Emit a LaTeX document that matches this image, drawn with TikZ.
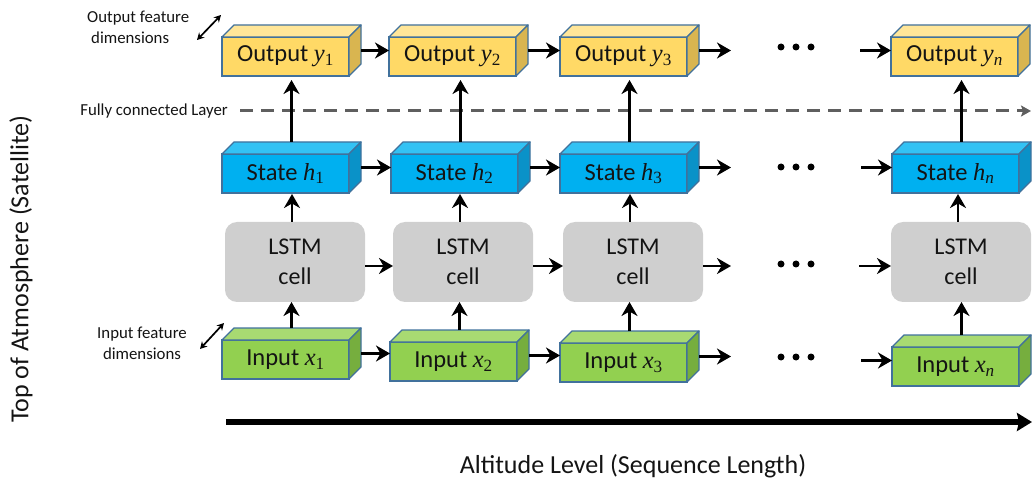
\documentclass[tikz,border=0pt]{standalone}
\usepackage{fontspec}
\setmainfont{Carlito}
\newfontfamily\varfont{Liberation Serif}
\usetikzlibrary{arrows.meta,calc}

\definecolor{outFront}{HTML}{FFD966}
\definecolor{outTop}{HTML}{FFE699}
\definecolor{outSide}{HTML}{D9B550}
\definecolor{stFront}{HTML}{00B0F0}
\definecolor{stTop}{HTML}{33C2F4}
\definecolor{stSide}{HTML}{0A92C8}
\definecolor{inFront}{HTML}{92D050}
\definecolor{inTop}{HTML}{A8DA72}
\definecolor{inSide}{HTML}{76AE3E}
\definecolor{edgeblue}{HTML}{41719C}
\definecolor{cellgray}{HTML}{CFCFCF}
\definecolor{fcgray}{HTML}{5F5F5F}
\definecolor{ink}{HTML}{141414}

% italic variable with a subscript
\newcommand\mv[2]{{\varfont\itshape #1}\textsubscript{\varfont #2}}

% a 3-D block: front face is the named node, top and right faces are drawn on it
% #1 colour prefix, #2 name, #3 x, #4 y of the front face's top-left corner, #5 text
\newcommand\cuboid[5]{%
  \node[face, fill=#1Front, anchor=north west] (#2) at (#3,#4) {#5};
  \filldraw[facedge, fill=#1Top] (#2.north west) -- ++(12,-12) -- ++(127,0)
    -- (#2.north east) -- cycle;
  \filldraw[facedge, fill=#1Side] (#2.north east) -- ++(12,-12) -- ++(0,39)
    -- (#2.south east) -- cycle;
}

\begin{document}
\begin{tikzpicture}[x=1pt,y=-1pt,
  face/.style={draw=edgeblue, line width=1.3pt, rectangle, minimum width=127pt,
    minimum height=39pt, inner sep=0pt, outer sep=0pt, text=ink,
    font=\fontsize{24.5}{27}\selectfont},
  facedge/.style={draw=edgeblue, line width=1.3pt, line join=round},
  cell/.style={fill=cellgray, rounded corners=12pt, minimum width=140pt,
    minimum height=80pt, inner sep=0pt, outer sep=0pt, align=center, text=ink,
    font=\fontsize{24}{30}\selectfont},
  conn/.style={-{Stealth[length=14pt,width=16pt,inset=4.5pt]}, line width=2.7pt},
  dimarrow/.style={{Stealth[length=7pt,width=7.5pt]}-{Stealth[length=7pt,width=7.5pt]},
    line width=1.7pt},
  note/.style={inner sep=0pt, text=ink, font=\fontsize{16.8}{21}\selectfont},
  axislabel/.style={inner sep=0pt, text=ink, font=\fontsize{26}{30}\selectfont},
  dot/.style={circle, fill=black, inner sep=0pt, minimum size=7pt},
]
\useasboundingbox (0,0) rectangle (1036,486);

% ---- fully connected layer (drawn first, arrows cross over it)
\coordinate (fcA) at (240,111);
\coordinate (fcB) at (1031,111);
\draw[fcgray, line width=3pt, dash pattern=on 13pt off 8pt,
  -{Stealth[length=10pt,width=11pt,inset=2pt]}] (fcA) -- (fcB);
\node[note, anchor=east] (fclabel) at (228,111) {Fully connected Layer};

% ---- output row
\cuboid{out}{o1}{222}{37}{Output \mv{y}{1}}
\cuboid{out}{o2}{389}{37}{Output \mv{y}{2}}
\cuboid{out}{o3}{560}{37}{Output \mv{y}{3}}
\cuboid{out}{on}{891}{37}{Output \mv{y}{\itshape n}}

% ---- state row
\cuboid{st}{s1}{222}{154}{State \mv{h}{1}}
\cuboid{st}{s2}{391}{154}{State \mv{h}{2}}
\cuboid{st}{s3}{560}{154}{State \mv{h}{3}}
\cuboid{st}{sn}{892}{154}{State \mv{h}{\itshape n}}

% ---- LSTM cells
\node[cell, anchor=north west] (l1) at (225,222) {LSTM\\cell};
\node[cell, anchor=north west] (l2) at (393,222) {LSTM\\cell};
\node[cell, anchor=north west] (l3) at (563,222) {LSTM\\cell};
\node[cell, anchor=north west] (ln) at (891,222) {LSTM\\cell};

% ---- input row
\cuboid{in}{i1}{222}{340}{Input \mv{x}{1}}
\cuboid{in}{i2}{390}{342}{Input \mv{x}{2}}
\cuboid{in}{i3}{560}{343}{Input \mv{x}{3}}
\cuboid{in}{in}{892}{347}{Input \mv{x}{\itshape n}}

% ---- gaps in the sequence
\foreach \r/\y in {o/47, s/167, l/264, i/357}{
  \node[dot] (\r dotA) at (781,\y) {};
  \node[dot] (\r dotB) at (796,\y) {};
  \node[dot] (\r dotC) at (811,\y) {};
  \coordinate (\r gapL) at (731,\y);
}

% ---- horizontal connections
\foreach \r in {o,s,i}{
  \draw[conn] ($(\r1.east)+(12,-6)$) coordinate (t) -- (t -| \r2.west);
  \draw[conn] ($(\r2.east)+(12,-6)$) coordinate (t) -- (t -| \r3.west);
  \draw[conn] ($(\r3.east)+(12,-6)$) coordinate (t) -- (t -| \r gapL);
  \draw[conn] ($(\r n.west)+(-31,-6)$) coordinate (t) -- (t -| \r n.west);
}
\draw[conn] ($(l1.east)+(0,4)$) coordinate (t) -- (t -| l2.west);
\draw[conn] ($(l2.east)+(0,4)$) coordinate (t) -- (t -| l3.west);
\draw[conn] ($(l3.east)+(0,4)$) coordinate (t) -- (t -| lgapL);
\draw[conn] ($(ln.west)+(-32,4)$) coordinate (t) -- (t -| ln.west);

% ---- vertical connections
\foreach \c in {1,2,3,n}{
  \draw[conn] ($(i\c.north)+(6,-12)$) coordinate (t) -- (t |- l\c.south);
  \draw[conn, shorten >=1pt] ($(l\c.north)+(-3,0)$) coordinate (t) -- (t |- s\c.south);
  \draw[conn, shorten >=4pt] ($(s\c.north)+(6,-12)$) coordinate (t) -- (t |- o\c.south);
}

% ---- feature-dimension notes
\node[note, anchor=west, align=left] (outdim) at (87,27) {Output feature\\\hspace*{4pt}dimensions};
\coordinate (odA) at (197,40);
\coordinate (odB) at (221,15);
\draw[dimarrow] (odA) -- (odB);

\node[note, align=center] (indim) at (142,343) {Input feature\\dimensions};
\coordinate (idA) at (200,349);
\coordinate (idB) at (224,323);
\draw[dimarrow] (idA) -- (idB);

% ---- axes
\coordinate (axA) at (226,422);
\coordinate (axB) at (1032,422);
\draw[line width=6pt, -{Stealth[length=15pt,width=18pt,inset=2pt]}] (axA) -- (axB);
\node[axislabel] (xlabel) at (633,466) {Altitude Level (Sequence Length)};
\node[axislabel, rotate=90] (ylabel) at (21,269) {Top of Atmosphere (Satellite)};
\end{tikzpicture}
\end{document}
